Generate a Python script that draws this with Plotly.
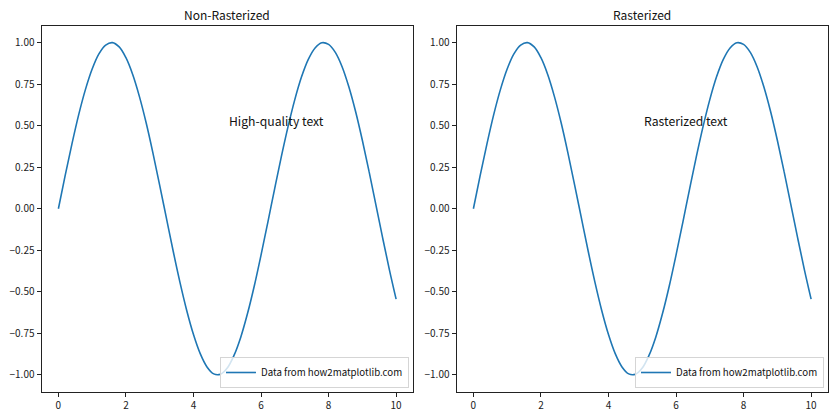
import plotly.graph_objects as go
from plotly.subplots import make_subplots

x_vals = [round(i * 0.2, 1) for i in range(51)]
y_vals = [0.000, 0.199, 0.389, 0.565, 0.717, 0.841, 0.932, 0.985, 1.000, 0.974,
          0.909, 0.808, 0.675, 0.516, 0.335, 0.141, -0.058, -0.256, -0.443, -0.612,
          -0.757, -0.872, -0.952, -0.994, -0.996, -0.959, -0.883, -0.773, -0.631, -0.465,
          -0.279, -0.083, 0.117, 0.312, 0.494, 0.657, 0.794, 0.899, 0.968, 0.999,
          0.989, 0.941, 0.855, 0.734, 0.585, 0.412, 0.223, 0.025, -0.174, -0.366,
          -0.544]
titles = ["Non-Rasterized", "Rasterized"]
texts = ["High-quality text", "Rasterized text"]
legend_label = "Data from how2matplotlib.com"
x_ticks = [0, 2, 4, 6, 8, 10]
y_ticks = [-1.0, -0.75, -0.5, -0.25, 0.0, 0.25, 0.5, 0.75, 1.0]

FONT = "Noto Sans CJK SC"
W, H = 840, 420
fig = make_subplots(rows=1, cols=2)

x_domains = [[41.5 / W, 413 / W], [456.5 / W, 828 / W]]
y_domain = [1 - 391.5 / H, 1 - 26 / H]
legend_x = [409 / W, 824 / W]

for i in range(2):
    fig.add_trace(go.Scatter(x=x_vals, y=y_vals, mode="lines", line_shape="spline",
                             line=dict(color="#1f77b4", width=1.6),
                             name=legend_label,
                             legend="legend" if i == 0 else "legend2"),
                  row=1, col=i + 1)
    axis_common = dict(showline=True, mirror=True, linecolor="#222", linewidth=1,
                       ticks="outside", ticklen=4, tickcolor="#222", showgrid=False,
                       zeroline=False, tickfont=dict(family=FONT, size=10, color="#222"))
    fig.update_xaxes(domain=x_domains[i], range=[-0.5, 10.5], tickvals=x_ticks,
                     **axis_common, row=1, col=i + 1)
    fig.update_yaxes(domain=y_domain, range=[-1.1, 1.1], tickvals=y_ticks,
                     tickformat=".2f", **axis_common, row=1, col=i + 1)
    xref = "x" if i == 0 else "x2"
    yref = "y" if i == 0 else "y2"
    fig.add_annotation(x=5, y=0.5, xref=xref, yref=yref, text=texts[i], showarrow=False,
                       xanchor="left", yanchor="bottom", yshift=-6,
                       font=dict(family=FONT, size=12.2, color="#111"))
    cx = (x_domains[i][0] + x_domains[i][1]) / 2
    fig.add_annotation(x=cx, y=1 - 15 / H, xref="paper", yref="paper", text=titles[i],
                       showarrow=False, xanchor="center", yanchor="middle",
                       font=dict(family=FONT, size=12, color="#111"))

leg_common = dict(xanchor="right", yanchor="bottom", bgcolor="rgba(255,255,255,0.8)",
                  bordercolor="#d5d5d5", borderwidth=1, itemwidth=30,
                  font=dict(family=FONT, size=9.7, color="#111"))
fig.update_layout(
    width=W, height=H, margin=dict(l=0, r=0, t=0, b=0),
    paper_bgcolor="white", plot_bgcolor="white",
    showlegend=True,
    legend=dict(x=legend_x[0], y=1 - 388 / H, **leg_common),
    legend2=dict(x=legend_x[1], y=1 - 388 / H, **leg_common),
)
fig.write_html("out.html")
